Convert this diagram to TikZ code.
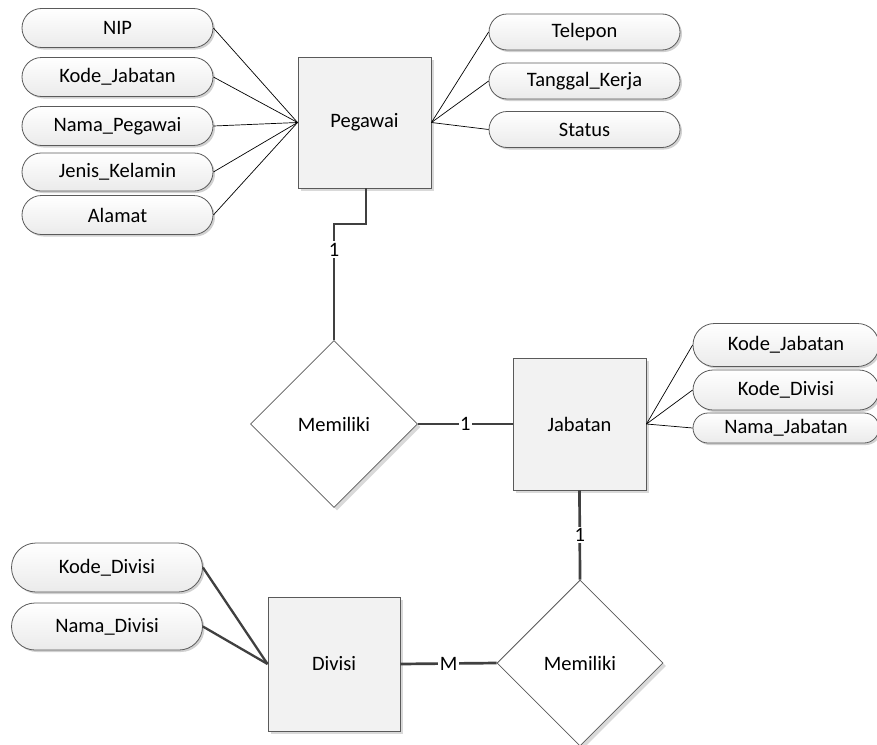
\documentclass[tikz,border=0pt]{standalone}
\usepackage{fontspec}
\setmainfont{Carlito}
\usetikzlibrary{shapes.geometric,shadows}
\definecolor{edgegray}{HTML}{5A5A5A}
\definecolor{linkgray}{HTML}{404040}
\definecolor{boxfill}{HTML}{F2F2F2}
\begin{document}
\begin{tikzpicture}[x=1pt,y=-1pt,
  every node/.style={font=\fontsize{20.5}{24}\selectfont, text=black},
  attr/.style={rectangle, draw=edgegray, line width=0.8pt, top color=white, bottom color=black!8,
    minimum width=#1, inner sep=0pt,
    drop shadow={shadow xshift=2pt, shadow yshift=-2pt, fill=black!18, opacity=1}},
  attr/.default=191pt,
  entbox/.style={rectangle, draw=edgegray, line width=0.9pt, fill=boxfill, inner sep=0pt,
    drop shadow={shadow xshift=3pt, shadow yshift=-3pt, fill=black!15, opacity=1}},
  relbox/.style={diamond, draw=edgegray, line width=0.8pt, fill=white, inner sep=0pt, aspect=1,
    drop shadow={shadow xshift=3pt, shadow yshift=-3pt, fill=black!15, opacity=1}},
  thin link/.style={draw=black, line width=0.7pt},
  thick link/.style={draw=linkgray, line width=2.7pt},
  div link/.style={draw=linkgray, line width=2.3pt},
  card/.style={fill=white, inner sep=1.5pt, font=\fontsize{20.5}{24}\selectfont}
]
\useasboundingbox (0,0) rectangle (877,744);

% entities
\node[entbox, minimum width=133pt, minimum height=131pt] (peg) at (364.5,122.5) {Pegawai};
\node[entbox, minimum width=133pt, minimum height=132pt] (jab) at (579.5,424) {Jabatan};
\node[entbox, minimum width=132pt, minimum height=134pt] (div) at (334,664) {Divisi};

% relationships
\node[relbox, minimum width=167pt, minimum height=167pt] (m1) at (334,424) {Memiliki};
\node[relbox, minimum width=166pt, minimum height=166pt] (m2) at (580,663) {Memiliki};

% Pegawai attributes (left)
\node[attr, minimum height=39pt, rounded corners=19.5pt] (nip) at (117.5,28) {NIP};
\node[attr, minimum height=39pt, rounded corners=19.5pt] (kj1) at (117.5,77) {Kode\_Jabatan};
\node[attr, minimum height=39pt, rounded corners=19.5pt] (np) at (117.5,126) {Nama\_Pegawai};
\node[attr, minimum height=38pt, rounded corners=19pt] (jk) at (117.5,172) {Jenis\_Kelamin};
\node[attr, minimum height=39pt, rounded corners=19.5pt] (alm) at (117.5,215) {Alamat};

% Pegawai attributes (right)
\node[attr, minimum height=36pt, rounded corners=18pt] (tel) at (584.5,32) {Telepon};
\node[attr, minimum height=36pt, rounded corners=18pt] (tgl) at (584.5,81) {Tanggal\_Kerja};
\node[attr, minimum height=36pt, rounded corners=18pt] (sts) at (584.5,129.5) {Status};

% Jabatan attributes
\node[attr=186pt, minimum height=43pt, rounded corners=21.5pt] (kj2) at (786,345) {Kode\_Jabatan};
\node[attr=186pt, minimum height=40pt, rounded corners=20pt] (kd1) at (786,390) {Kode\_Divisi};
\node[attr=186pt, minimum height=30pt, rounded corners=15pt] (nj) at (786,428) {Nama\_Jabatan};

% Divisi attributes
\node[attr=191pt, minimum height=49pt, rounded corners=24.5pt] (kd2) at (107,567.5) {Kode\_Divisi};
\node[attr=191pt, minimum height=47pt, rounded corners=23.5pt] (nd) at (107,626.5) {Nama\_Divisi};

% attribute links
\foreach \a in {nip,kj1,np,jk,alm} \draw[thin link] (\a.east) -- (peg.west);
\foreach \a in {tel,tgl,sts} \draw[thin link] (\a.west) -- (peg.east);
\foreach \a in {kj2,kd1,nj} \draw[thin link] (\a.west) -- (jab.east);
\foreach \a in {kd2,nd} \draw[div link] (\a.east) -- (div.west);

% relationship links
\draw[thick link] ([xshift=1.5pt]peg.south) -- ++(0,35.5) -| (m1.north) node[card, pos=0.61] {1};
\draw[thick link] (m1.east) -- (jab.west) node[card, pos=0.5] {1};
\draw[thick link] (jab.south) -- (m2.north) node[card, pos=0.5] {1};
\draw[thick link] (div.east) -- (m2.west) node[card, pos=0.5] {M};
\end{tikzpicture}
\end{document}
